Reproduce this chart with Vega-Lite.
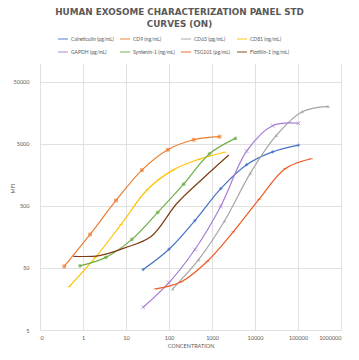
{
  "$schema": "https://vega.github.io/schema/vega-lite/v6.json",
  "width": 301,
  "height": 267,
  "autosize": {"type": "none"},
  "padding": {"left": 40, "top": 63, "right": 18, "bottom": 30},
  "background": "white",
  "config": {"view": {"stroke": null}, "font": "Lato"},
  "title": {
    "text": ["HUMAN EXOSOME CHARACTERIZATION PANEL STD", "CURVES (ON)"],
    "font": "DejaVu Sans",
    "fontSize": 8.8,
    "fontWeight": "bold",
    "color": "#595959",
    "anchor": "middle",
    "dx": -11,
    "offset": 4,
    "lineHeight": 12
  },
  "data": {
    "values": [
      {"series": "Calreticulin (pg/mL)", "conc": 25, "mfi": 47},
      {"series": "Calreticulin (pg/mL)", "conc": 100, "mfi": 100},
      {"series": "Calreticulin (pg/mL)", "conc": 400, "mfi": 290},
      {"series": "Calreticulin (pg/mL)", "conc": 1600, "mfi": 950},
      {"series": "Calreticulin (pg/mL)", "conc": 6400, "mfi": 2300},
      {"series": "Calreticulin (pg/mL)", "conc": 25600, "mfi": 3700},
      {"series": "Calreticulin (pg/mL)", "conc": 102400, "mfi": 4750},
      {"series": "CD9 (ng/mL)", "conc": 0.366, "mfi": 53},
      {"series": "CD9 (ng/mL)", "conc": 1.46, "mfi": 173},
      {"series": "CD9 (ng/mL)", "conc": 5.86, "mfi": 610},
      {"series": "CD9 (ng/mL)", "conc": 23.4, "mfi": 1880},
      {"series": "CD9 (ng/mL)", "conc": 93.75, "mfi": 4000},
      {"series": "CD9 (ng/mL)", "conc": 375, "mfi": 5800},
      {"series": "CD9 (ng/mL)", "conc": 1500, "mfi": 6500},
      {"series": "CD63 (pg/mL)", "conc": 122, "mfi": 23},
      {"series": "CD63 (pg/mL)", "conc": 488, "mfi": 68},
      {"series": "CD63 (pg/mL)", "conc": 1953, "mfi": 285},
      {"series": "CD63 (pg/mL)", "conc": 7812, "mfi": 1680},
      {"series": "CD63 (pg/mL)", "conc": 31250, "mfi": 6800},
      {"series": "CD63 (pg/mL)", "conc": 125000, "mfi": 16400},
      {"series": "CD63 (pg/mL)", "conc": 500000, "mfi": 20000},
      {"series": "CD81 (ng/mL)", "conc": 0.48, "mfi": 25},
      {"series": "CD81 (ng/mL)", "conc": 1.92, "mfi": 73},
      {"series": "CD81 (ng/mL)", "conc": 7.7, "mfi": 251},
      {"series": "CD81 (ng/mL)", "conc": 30.7, "mfi": 900},
      {"series": "CD81 (ng/mL)", "conc": 123, "mfi": 1880},
      {"series": "CD81 (ng/mL)", "conc": 491, "mfi": 2800},
      {"series": "CD81 (ng/mL)", "conc": 1966, "mfi": 3650},
      {"series": "GAPDH (pg/mL)", "conc": 25, "mfi": 11.6},
      {"series": "GAPDH (pg/mL)", "conc": 100, "mfi": 29},
      {"series": "GAPDH (pg/mL)", "conc": 400, "mfi": 99},
      {"series": "GAPDH (pg/mL)", "conc": 1600, "mfi": 494},
      {"series": "GAPDH (pg/mL)", "conc": 6400, "mfi": 3800},
      {"series": "GAPDH (pg/mL)", "conc": 25600, "mfi": 9750},
      {"series": "GAPDH (pg/mL)", "conc": 102400, "mfi": 10700},
      {"series": "Syntenin-1 (ng/mL)", "conc": 0.85, "mfi": 54},
      {"series": "Syntenin-1 (ng/mL)", "conc": 3.4, "mfi": 74},
      {"series": "Syntenin-1 (ng/mL)", "conc": 13.7, "mfi": 144},
      {"series": "Syntenin-1 (ng/mL)", "conc": 54.7, "mfi": 392},
      {"series": "Syntenin-1 (ng/mL)", "conc": 219, "mfi": 1117},
      {"series": "Syntenin-1 (ng/mL)", "conc": 875, "mfi": 3450},
      {"series": "Syntenin-1 (ng/mL)", "conc": 3500, "mfi": 6100},
      {"series": "TSG101 (pg/mL)", "conc": 48.8, "mfi": 23},
      {"series": "TSG101 (pg/mL)", "conc": 195, "mfi": 30},
      {"series": "TSG101 (pg/mL)", "conc": 781, "mfi": 64},
      {"series": "TSG101 (pg/mL)", "conc": 3125, "mfi": 191},
      {"series": "TSG101 (pg/mL)", "conc": 12500, "mfi": 640},
      {"series": "TSG101 (pg/mL)", "conc": 50000, "mfi": 1980},
      {"series": "TSG101 (pg/mL)", "conc": 200000, "mfi": 2870},
      {"series": "Flotillin-1 (ng/mL)", "conc": 0.6, "mfi": 77},
      {"series": "Flotillin-1 (ng/mL)", "conc": 2.4, "mfi": 79},
      {"series": "Flotillin-1 (ng/mL)", "conc": 9.6, "mfi": 106},
      {"series": "Flotillin-1 (ng/mL)", "conc": 38.4, "mfi": 160},
      {"series": "Flotillin-1 (ng/mL)", "conc": 153.6, "mfi": 550},
      {"series": "Flotillin-1 (ng/mL)", "conc": 614, "mfi": 1380},
      {"series": "Flotillin-1 (ng/mL)", "conc": 2458, "mfi": 3300}
    ]
  },
  "encoding": {
    "x": {
      "field": "conc",
      "type": "quantitative",
      "scale": {"type": "log", "domain": [0.1, 1000000], "nice": false},
      "axis": {
        "values": [0.1, 1, 10, 100, 1000, 10000, 100000, 1000000],
        "labelExpr": "datum.value < 1 ? '0' : format(datum.value, 'd')",
        "title": "CONCENTRATION",
        "titleFontSize": 5.5,
        "titleFontWeight": "normal",
        "titleColor": "#595959",
        "titlePadding": 3,
        "labelFontSize": 5.5,
        "labelColor": "#595959",
        "labelPadding": 5,
        "domain": false,
        "ticks": false,
        "grid": true,
        "gridColor": "#d9d9d9",
        "gridWidth": 0.8
      }
    },
    "y": {
      "field": "mfi",
      "type": "quantitative",
      "scale": {"type": "log", "domain": [5, 100000], "nice": false},
      "axis": {
        "values": [5, 50, 500, 5000, 50000],
        "format": "d",
        "title": "MFI",
        "titleFontSize": 5.5,
        "titleFontWeight": "normal",
        "titleColor": "#595959",
        "titleX": -28,
        "titleY": 125,
        "titleAngle": 270,
        "titleAlign": "center",
        "titleBaseline": "middle",
        "labelFontSize": 5.5,
        "labelColor": "#595959",
        "labelPadding": 11,
        "domain": false,
        "ticks": false,
        "grid": true,
        "gridColor": "#d9d9d9",
        "gridWidth": 0.8
      }
    },
    "color": {
      "field": "series",
      "type": "nominal",
      "scale": {
        "domain": ["Calreticulin (pg/mL)", "CD9 (ng/mL)", "CD63 (pg/mL)", "CD81 (ng/mL)", "GAPDH (pg/mL)", "Syntenin-1 (ng/mL)", "TSG101 (pg/mL)", "Flotillin-1 (ng/mL)"],
        "range": ["#4472C4", "#ED7D31", "#A5A5A5", "#FFC000", "#A67DD4", "#70AD47", "#EE5A24", "#7E3B15"]
      },
      "legend": {
        "orient": "none",
        "legendX": 17,
        "legendY": -30,
        "direction": "horizontal",
        "columns": 4,
        "title": null,
        "symbolType": "stroke",
        "symbolSize": 100,
        "symbolStrokeWidth": 1.3,
        "labelFontSize": 5,
        "labelColor": "#595959",
        "labelLimit": 70,
        "labelOffset": 2,
        "gridAlign": "each",
        "columnPadding": 3,
        "rowPadding": 4
      }
    }
  },
  "layer": [
    {
      "mark": {"type": "line", "interpolate": "catmull-rom", "strokeWidth": 1.2}
    },
    {
      "mark": {"type": "point", "filled": true, "size": 14, "shape": "diamond"},
      "transform": [{"filter": "datum.series === 'Calreticulin (pg/mL)'"}]
    },
    {
      "mark": {"type": "point", "filled": true, "size": 14, "shape": "square"},
      "transform": [{"filter": "datum.series === 'CD9 (ng/mL)'"}]
    },
    {
      "mark": {"type": "point", "filled": true, "size": 14, "shape": "triangle-up"},
      "transform": [{"filter": "datum.series === 'CD63 (pg/mL)'"}]
    },
    {
      "mark": {"type": "point", "filled": true, "size": 14, "shape": "circle"},
      "transform": [{"filter": "datum.series === 'Syntenin-1 (ng/mL)'"}]
    },
    {
      "mark": {"type": "point", "filled": false, "size": 14, "strokeWidth": 1, "shape": "M-1,0L1,0"},
      "transform": [{"filter": "datum.series === 'CD81 (ng/mL)' || datum.series === 'TSG101 (pg/mL)'"}]
    },
    {
      "mark": {"type": "point", "filled": false, "size": 14, "strokeWidth": 1, "shape": "M-1,-1L1,1M-1,1L1,-1"},
      "transform": [{"filter": "datum.series === 'GAPDH (pg/mL)'"}]
    }
  ]
}
